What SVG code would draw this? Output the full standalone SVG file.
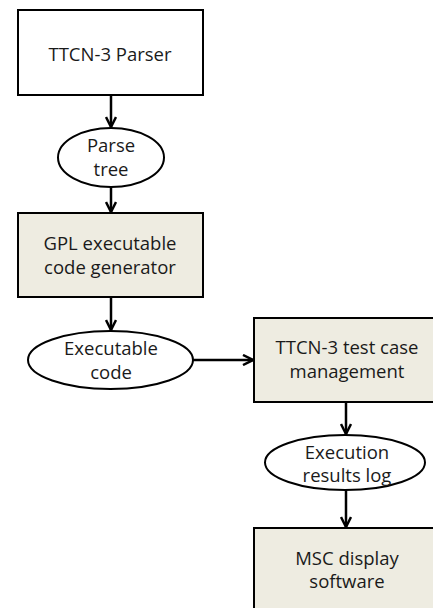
<svg xmlns="http://www.w3.org/2000/svg" width="433" height="608" viewBox="0 0 433 608">
<style>
.box{fill:#fff;stroke:#000;stroke-width:2}
.tan{fill:#EEECE1;stroke:#000;stroke-width:2}
.ell{fill:#fff;stroke:#000;stroke-width:2}
.t{font-family:"Open Sans","Liberation Sans",sans-serif;font-size:18.5px;fill:#1a1a1a;text-anchor:middle}
.c{stroke:#000;stroke-width:2.5;fill:none}
</style>
<defs>
<marker id="ah" viewBox="0 0 12 12" refX="11" refY="6" markerWidth="12" markerHeight="12" markerUnits="userSpaceOnUse" orient="auto">
<path d="M1,1 L11,6 L1,11" fill="none" stroke="#000" stroke-width="2.5"/>
</marker>
</defs>
<g id="connectors">
<line class="c" x1="111" y1="95" x2="111" y2="127" marker-end="url(#ah)"/>
<line class="c" x1="111" y1="187" x2="111" y2="212" marker-end="url(#ah)"/>
<line class="c" x1="111" y1="297" x2="111" y2="330" marker-end="url(#ah)"/>
<line class="c" x1="193" y1="360" x2="253" y2="360" marker-end="url(#ah)"/>
<line class="c" x1="346" y1="402" x2="346" y2="434" marker-end="url(#ah)"/>
<line class="c" x1="346" y1="490" x2="346" y2="527" marker-end="url(#ah)"/>
</g>
<g id="ttcn3-parser">
<rect class="box" x="18" y="10" width="185" height="85"/>
<text class="t" x="110" y="61">TTCN-3 Parser</text>
</g>
<g id="parse-tree">
<ellipse class="ell" cx="111" cy="157.5" rx="53" ry="29.5"/>
<text class="t" x="111" y="152">Parse</text>
<text class="t" x="111" y="176">tree</text>
</g>
<g id="gpl-generator">
<rect class="tan" x="18" y="213" width="185" height="84"/>
<text class="t" x="110" y="250">GPL executable</text>
<text class="t" x="110" y="274">code generator</text>
</g>
<g id="executable-code">
<ellipse class="ell" cx="110.5" cy="360" rx="82.5" ry="29"/>
<text class="t" x="111" y="355">Executable</text>
<text class="t" x="111" y="379">code</text>
</g>
<g id="test-case-mgmt">
<rect class="tan" x="254" y="318" width="190" height="84"/>
<text class="t" x="347" y="354">TTCN-3 test case</text>
<text class="t" x="347" y="378">management</text>
</g>
<g id="execution-log">
<ellipse class="ell" cx="345" cy="462.5" rx="80" ry="27.5"/>
<text class="t" x="347" y="459">Execution</text>
<text class="t" x="347" y="482">results log</text>
</g>
<g id="msc-display">
<rect class="tan" x="254" y="528" width="190" height="90"/>
<text class="t" x="347" y="565">MSC display</text>
<text class="t" x="347" y="588">software</text>
</g>
</svg>
